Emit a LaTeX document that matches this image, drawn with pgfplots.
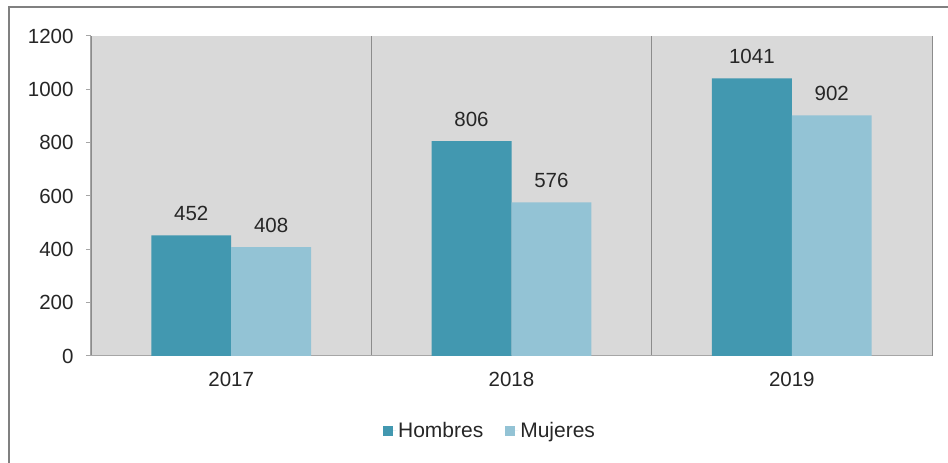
\documentclass[border=0pt]{standalone}
\usepackage{pgfplots}
\pgfplotsset{compat=1.18}
\usepackage{fontspec}
\setmainfont{Liberation Sans}

\definecolor{hombres}{HTML}{4298B0}
\definecolor{mujeres}{HTML}{93C3D5}
\definecolor{fondo}{HTML}{D9D9D9}
\definecolor{ejes}{HTML}{A6A6A6}
\definecolor{texto}{HTML}{262626}

\begin{document}
\begin{tikzpicture}[x=1pt,y=1pt]
	\path[use as bounding box, clip] (0,0) rectangle (948,463);
	% outer frame (only left and top edges are visible)
	\draw[gray, line width=2.5pt] (9,-20) -- (9,456) -- (980,456);

	\begin{axis}[
		at={(91pt,107pt)}, anchor=south west,
		scale only axis, width=841pt, height=320pt,
		axis background/.style={fill=fondo},
		axis x line*=bottom, axis y line*=left,
		axis line style={ejes, line width=1pt},
		ybar, bar width=0.285,
		xmin=-0.5, xmax=2.5, ymin=0, ymax=1200,
		xtick={0,1,2}, xticklabels={2017,2018,2019},
		minor xtick={-0.5,0.5,1.5,2.5},
		xtick style={draw=none},
		minor x tick style={ejes, line width=1pt},
		minor grid style={gray!90, line width=0.8pt},
		xminorgrids=true,
		ytick={0,200,...,1200},
		y tick style={ejes, line width=1pt},
		tick align=outside, major tick length=5pt, minor tick length=6pt,
		ticklabel style={font=\fontsize{20.5}{24}\selectfont, text=texto},
		xticklabel style={yshift=-8pt},
		yticklabel style={xshift=-9pt},
		/pgf/number format/assume math mode=true,
		/pgf/number format/1000 sep={},
		nodes near coords,
		nodes near coords style={font=\fontsize{20.5}{24}\selectfont, text=texto, anchor=south, yshift=11pt},
		legend style={at={(0.4745,-0.234)}, anchor=center, draw=none, fill=none,
			legend columns=2, font=\fontsize{21}{24}\selectfont, text=texto,
			/tikz/every even column/.append style={column sep=20pt}},
		legend image code/.code={\fill[#1] (0pt,-5pt) rectangle (10pt,5pt);
			\path (0pt,0pt) -- (13pt,0pt);},
	]
		\addplot[fill=hombres, draw=none, bar shift=-0.1425] coordinates {(0,452) (1,806) (2,1041)};
		\addplot[fill=mujeres, draw=none, bar shift=0.1425] coordinates {(0,408) (1,576) (2,902)};
		\legend{Hombres, Mujeres}
	\end{axis}
\end{tikzpicture}
\end{document}
